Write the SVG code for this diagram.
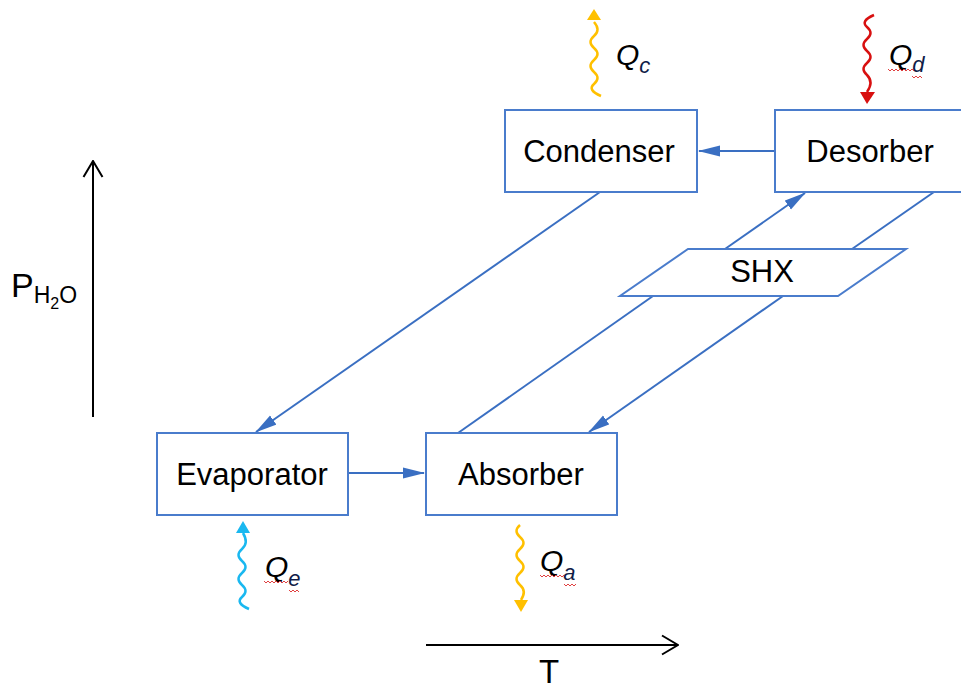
<svg xmlns="http://www.w3.org/2000/svg" width="961" height="691" viewBox="0 0 961 691">
<style>
.box{fill:#fff;stroke:#4a7ccc;stroke-width:2}
.con{fill:none;stroke:#3a6fc2;stroke-width:2}
.lbl{font-family:"Liberation Sans",Arial,sans-serif;font-size:31px;fill:#000;text-anchor:middle}
.q{font-family:"Liberation Sans",Arial,sans-serif;font-size:30px;font-style:italic;fill:#000}
.sub{font-size:22px;fill:#101c48}
.ax{fill:none;stroke:#000;stroke-width:2}
.wave{fill:none;stroke-width:2.5}
.spell{fill:none;stroke:#e04040;stroke-width:1}
</style>
<defs>
<marker id="ah" viewBox="0 0 22 12" refX="21" refY="6" markerWidth="22" markerHeight="12" markerUnits="userSpaceOnUse" orient="auto"><path d="M0,0.5 L22,6 L0,11.5 z" fill="#3a6fc2"/></marker>
<marker id="oa" viewBox="0 0 18 22" refX="17" refY="11" markerWidth="18" markerHeight="22" markerUnits="userSpaceOnUse" orient="auto"><path d="M1,1.5 L17,11 L1,20.5" fill="none" stroke="#000" stroke-width="2"/></marker>
</defs>

<g id="axes">
<line class="ax" x1="93" y1="417" x2="93" y2="161" marker-end="url(#oa)"/>
<line class="ax" x1="426" y1="645" x2="678" y2="645" marker-end="url(#oa)"/>
<text x="11" y="297" font-family="Liberation Sans, Arial, sans-serif" font-size="34">P<tspan font-size="23" dy="6">H</tspan><tspan font-size="16" dy="6">2</tspan><tspan font-size="23" dy="-6">O</tspan></text>
<text x="549" y="683" font-family="Liberation Sans, Arial, sans-serif" font-size="33" text-anchor="middle">T</text>
</g>

<g id="connectors">
<line class="con" x1="775" y1="151" x2="699" y2="151" marker-end="url(#ah)"/>
<line class="con" x1="600" y1="192" x2="256" y2="432" marker-end="url(#ah)"/>
<line class="con" x1="348" y1="473" x2="424" y2="473" marker-end="url(#ah)"/>
<line class="con" x1="458" y1="433" x2="653" y2="296"/>
<line class="con" x1="725" y1="249" x2="805" y2="193" marker-end="url(#ah)"/>
<line class="con" x1="934" y1="192" x2="852" y2="249"/>
<line class="con" x1="783" y1="296" x2="589" y2="432" marker-end="url(#ah)"/>
</g>

<g id="condenser"><rect class="box" x="505" y="110" width="192" height="82"/><text class="lbl" x="599" y="162">Condenser</text></g>
<g id="desorber"><rect class="box" x="775" y="110" width="190" height="82"/><text class="lbl" x="870" y="162">Desorber</text></g>
<g id="evaporator"><rect class="box" x="157" y="433" width="191" height="82"/><text class="lbl" x="252" y="485">Evaporator</text></g>
<g id="absorber"><rect class="box" x="426" y="433" width="191" height="82"/><text class="lbl" x="521" y="485">Absorber</text></g>
<g id="shx"><polygon class="box" points="688,249 906,249 838,296 620,296"/><text class="lbl" x="762" y="282">SHX</text></g>

<g id="qc">
<path class="wave" stroke="#ffc000" d="M601,96 Q587,90 594,84 Q601,78 594,72 Q587,66 594,60 Q601,54 594,48 Q587,42 594,36 Q601,30 594,22"/>
<polygon points="587,20 601,20 594,9" fill="#ffc000"/>
<text class="q" x="616" y="65">Q<tspan class="sub" dy="8">c</tspan></text>
</g>
<g id="qd">
<path class="wave" stroke="#d81010" d="M874,15 Q860,21 867,27 Q874,33 867,39 Q860,45 867,51 Q874,57 867,63 Q860,69 867,75 Q874,82 867,92"/>
<polygon points="860,92 875,92 867,104" fill="#d81010"/>
<text class="q" x="889" y="65">Q<tspan class="sub" dy="7">d</tspan></text>
<path class="spell" d="M888,69 l2,2 l2,-2 l2,2 l2,-2 l2,2 l2,-2 l2,2 l2,-2 l2,2 l2,-2 l2,2 l2,-2 l2,2"/>
<path class="spell" d="M912,76 l2,2 l2,-2 l2,2 l2,-2 l2,2"/>
</g>
<g id="qe">
<path class="wave" stroke="#1ab8f0" d="M249,609 Q235,603 242,597 Q249,591 242,585 Q235,579 242,573 Q249,567 242,561 Q235,555 242,549 Q249,543 243,533"/>
<polygon points="236,533 250,533 243,521" fill="#1ab8f0"/>
<text class="q" x="265" y="577">Q<tspan class="sub" dy="9">e</tspan></text>
<path class="spell" d="M264,581 l2,2 l2,-2 l2,2 l2,-2 l2,2 l2,-2 l2,2 l2,-2 l2,2 l2,-2 l2,2 l2,-2"/>
<path class="spell" d="M289,590 l2,2 l2,-2 l2,2 l2,-2 l2,2"/>
</g>
<g id="qa">
<path class="wave" stroke="#ffc000" d="M520,525 Q513,531 520,537 Q527,543 520,549 Q513,555 520,561 Q527,567 520,573 Q513,579 520,585 Q527,591 521,600"/>
<polygon points="514,600 528,600 521,612" fill="#ffc000"/>
<text class="q" x="540" y="571">Q<tspan class="sub" dy="9">a</tspan></text>
<path class="spell" d="M540,575 l2,2 l2,-2 l2,2 l2,-2 l2,2 l2,-2 l2,2 l2,-2 l2,2 l2,-2 l2,2 l2,-2"/>
<path class="spell" d="M564,584 l2,2 l2,-2 l2,2 l2,-2 l2,2 l2,-2"/>
</g>
</svg>
